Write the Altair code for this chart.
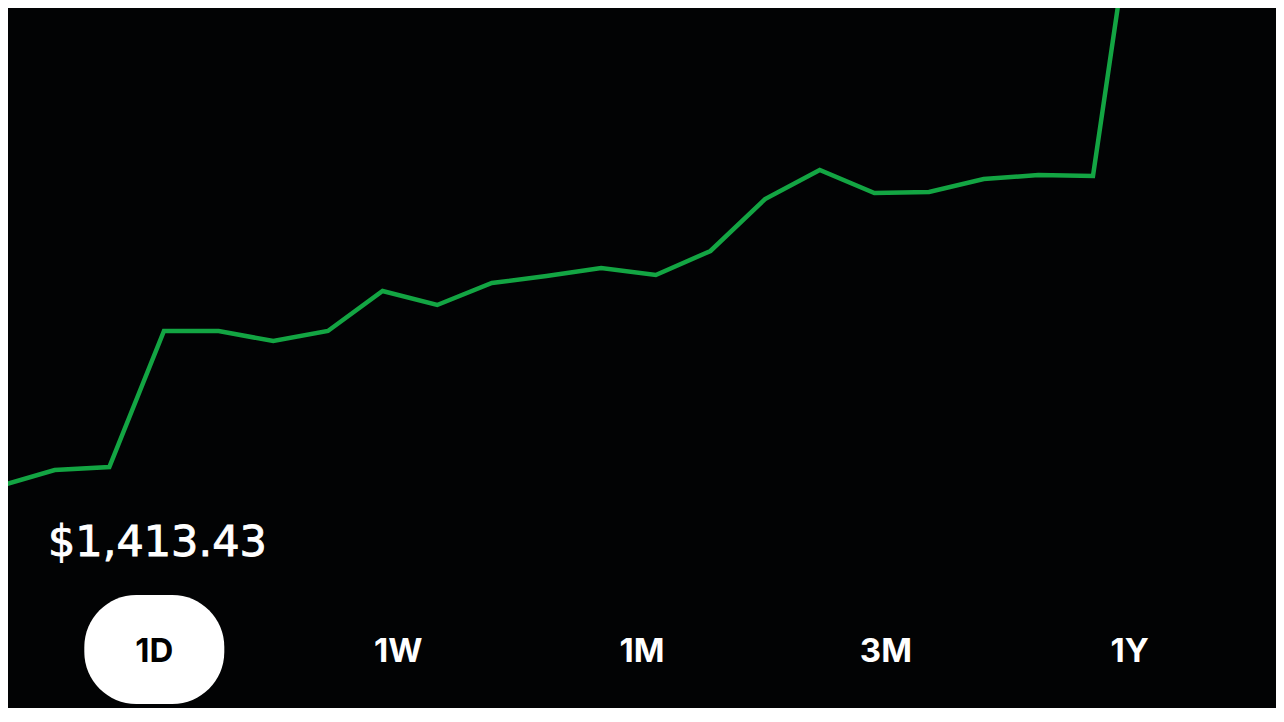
import altair as alt
import pandas as pd

# ---- data ----
point_index = list(range(22))
prices = [1345.23, 1346.83, 1347.13, 1360.73, 1360.73, 1359.73, 1360.73, 1364.73,
          1363.33, 1365.53, 1366.23, 1367.03, 1366.33, 1368.73, 1373.93, 1376.83,
          1374.53, 1374.63, 1375.93, 1376.33, 1376.23, 1413.43]
ranges = ["1D", "1W", "1M", "3M", "1Y"]
active = [True, False, False, False, False]
price_label = ["$1,413.43"]

BG = "#020304"
GREEN = "#13a543"
W, H = 1268, 700

line_df = pd.DataFrame({"i": point_index, "price": prices})
btn_df = pd.DataFrame({"range": ranges, "active": active})
price_df = pd.DataFrame({"label": price_label})

line = alt.Chart(line_df).mark_line(
    color=GREEN, strokeWidth=4.5, clip=True, strokeJoin="miter", strokeCap="butt"
).encode(
    x=alt.X("i:Q", scale=alt.Scale(domain=[0.146, 23.349], nice=False, zero=False), axis=None),
    y=alt.Y("price:Q", scale=alt.Scale(domain=[1323.03, 1393.03], nice=False, zero=False), axis=None),
)

bx = alt.X("range:N", sort=ranges,
           scale=alt.Scale(type="point", padding=0.6, domain=ranges), axis=None)

pill = alt.Chart(btn_df).transform_filter(alt.datum.active).mark_rect(
    width=140, height=109, cornerRadius=52, color="#ffffff"
).encode(x=bx, y=alt.value(641.5))

btn_text = alt.Chart(btn_df).mark_text(
    font="Inter", fontSize=33, fontWeight=700, baseline="alphabetic", align="center"
).encode(
    x=bx,
    y=alt.value(654),
    text="range:N",
    color=alt.condition(alt.datum.active, alt.value("#000000"), alt.value("#ffffff")),
)

price_text = alt.Chart(price_df).mark_text(
    font="DejaVu Sans", fontSize=43, fontWeight="normal", baseline="alphabetic", align="left",
    color="#ffffff", stroke="#ffffff", strokeWidth=0.9
).encode(x=alt.value(40), y=alt.value(548), text="label:N")

chart = alt.layer(line, pill, btn_text, price_text).resolve_scale(
    x="independent", y="independent"
).properties(
    width=W, height=H, background=BG, padding=0
).configure_view(stroke=None, fill=BG)

chart.save("out.html", embed_options={"renderer": "svg", "actions": False})
